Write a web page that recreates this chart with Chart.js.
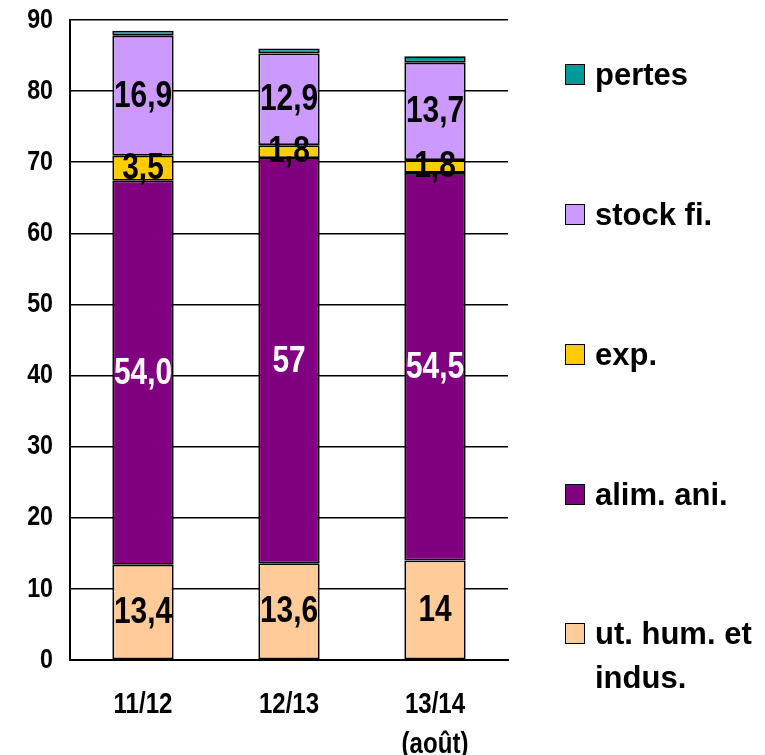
<!DOCTYPE html>
<html><head><meta charset="utf-8">
<script src="https://cdn.jsdelivr.net/npm/chart.js@4/dist/chart.umd.min.js"></script>
<style>
html,body{margin:0;padding:0;background:#fff;}
#wrap{position:relative;width:765px;height:755px;overflow:hidden;}
#c{position:absolute;left:0;top:0;}
.box{position:absolute;left:565px;width:18px;height:19px;border:1.5px solid #000;}
.txt{position:absolute;left:595px;font-family:'Liberation Sans',Arial,sans-serif;font-weight:bold;font-size:31px;line-height:30px;color:#000;white-space:nowrap;}
</style>
</head><body>
<div id="wrap"><canvas id="c" width="765" height="755"></canvas><div id="legend"></div></div>
<script>
const categories = [['11/12'], ['12/13'], ['13/14', '(août)']];
const yTicks = [0, 10, 20, 30, 40, 50, 60, 70, 80, 90];

const seriesNames = ['ut. hum. et indus.', 'alim. ani.', 'exp.', 'stock fi.', 'pertes'];
const utHum = [13.4, 13.6, 14];
const alimAni = [54.0, 57, 54.5];
const exportations = [3.5, 1.8, 1.8];
const stockFi = [16.9, 12.9, 13.7];
const pertes = [0.7, 0.7, 0.9];

const utHumLabels = ['13,4', '13,6', '14'];
const alimAniLabels = ['54,0', '57', '54,5'];
const expLabels = ['3,5', '1,8', '1,8'];
const stockLabels = ['16,9', '12,9', '13,7'];

const colors = ['#FFCC99', '#800080', '#FFCC00', '#CC99FF', '#009999'];

const fam = "'Liberation Sans',Arial,sans-serif";
const SQUEEZE = 0.83;

const ds = (label, data, color, texts, textColor) => ({
  label, data, backgroundColor: color, borderColor: '#000', borderWidth: 1.8,
  borderSkipped: false, texts, textColor,
  barPercentage: 0.42, categoryPercentage: 1.0
});

// horizontally condensed text (Arial Narrow look) for all canvas text
const squeeze = {
  id: 'squeeze',
  beforeInit(chart) {
    const ctx = chart.ctx;
    const orig = ctx.fillText.bind(ctx);
    ctx.fillText = function (t, x, y, mw) {
      ctx.save();
      ctx.translate(x, y);
      ctx.scale(SQUEEZE, 1);
      if (mw === undefined || mw === null) orig(t, 0, 0);
      else orig(t, 0, 0, mw / SQUEEZE);
      ctx.restore();
    };
  }
};

const valueLabels = {
  id: 'valueLabels',
  afterDatasetsDraw(chart) {
    const ctx = chart.ctx;
    ctx.save();
    ctx.textAlign = 'center';
    ctx.textBaseline = 'middle';
    ctx.font = "bold 36px " + fam;
    chart.data.datasets.forEach((d, i) => {
      if (!d.texts) return;
      const meta = chart.getDatasetMeta(i);
      meta.data.forEach((el, j) => {
        ctx.fillStyle = d.textColor;
        ctx.fillText(d.texts[j], el.x, (el.y + el.base) / 2 + 1);
      });
    });
    ctx.restore();
  }
};

new Chart(document.getElementById('c'), {
  type: 'bar',
  data: {
    labels: categories,
    datasets: [
      ds(seriesNames[0], utHum, colors[0], utHumLabels, '#000'),
      ds(seriesNames[1], alimAni, colors[1], alimAniLabels, '#fff'),
      ds(seriesNames[2], exportations, colors[2], expLabels, '#000'),
      ds(seriesNames[3], stockFi, colors[3], stockLabels, '#000'),
      ds(seriesNames[4], pertes, colors[4], null, '#000')
    ]
  },
  options: {
    responsive: false,
    animation: false,
    devicePixelRatio: 1,
    layout: { padding: { top: 20, right: 257, left: 0, bottom: 0 } },
    plugins: { legend: { display: false }, tooltip: { enabled: false } },
    scales: {
      x: {
        stacked: true,
        grid: { display: false, drawTicks: false },
        border: { display: true, color: '#000', width: 2 },
        ticks: { color: '#000', font: { family: fam, weight: 'bold', size: 29, lineHeight: 1.38 }, padding: 25, maxRotation: 0 },
        afterFit(s) { s.height = 95; s.paddingLeft = 0; s.paddingRight = 0; }
      },
      y: {
        stacked: true,
        min: 0, max: 90,
        afterBuildTicks(s) { s.ticks = yTicks.map(v => ({ value: v })); },
        grid: { color: '#000', lineWidth: 1.6, drawTicks: false },
        border: { display: true, color: '#000', width: 2 },
        ticks: { color: '#000', font: { family: fam, weight: 'bold', size: 28 }, padding: 17 },
        afterFit(s) { s.width = 70; s.paddingTop = 0; s.paddingBottom = 0; }
      }
    }
  },
  plugins: [squeeze, valueLabels]
});

// legend (top to bottom)
const legendItems = [
  { text: 'pertes', color: colors[4], y: 75 },
  { text: 'stock fi.', color: colors[3], y: 215 },
  { text: 'exp.', color: colors[2], y: 355 },
  { text: 'alim. ani.', color: colors[1], y: 495 },
  { text: 'ut. hum. et<br>indus.', color: colors[0], y: 634 }
];
const lg = document.getElementById('legend');
legendItems.forEach(it => {
  const b = document.createElement('div');
  b.className = 'box';
  b.style.top = (it.y - 11) + 'px';
  b.style.background = it.color;
  lg.appendChild(b);
  const t = document.createElement('div');
  t.className = 'txt';
  t.style.top = (it.y - 15) + 'px';
  if (it.text.includes('<br>')) { t.style.lineHeight = '44px'; t.style.top = (it.y - 22) + 'px'; }
  t.innerHTML = it.text;
  lg.appendChild(t);
});
</script>
</body></html>
